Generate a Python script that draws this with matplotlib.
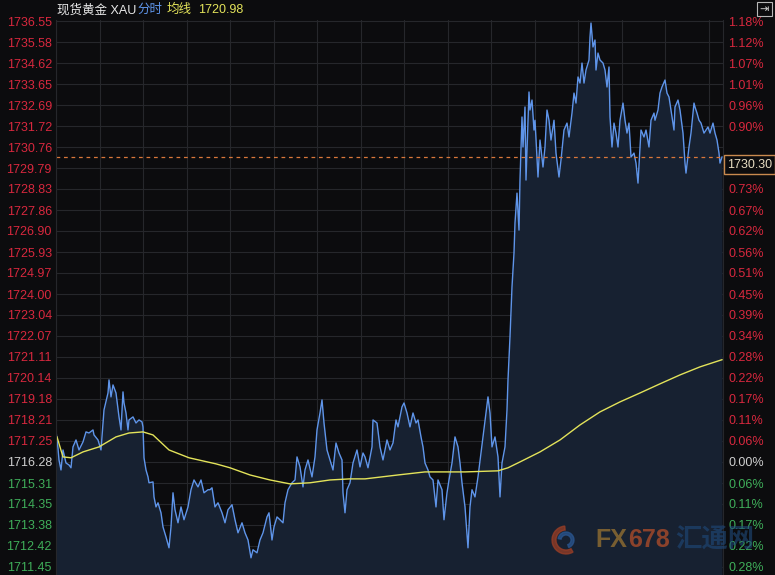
import numpy as np
import matplotlib
matplotlib.use('Agg')
import matplotlib.pyplot as plt
from matplotlib.patches import Rectangle, Wedge
from matplotlib.transforms import IdentityTransform, blended_transform_factory

plt.rcParams['font.family'] = ['Liberation Sans', 'Noto Sans CJK SC', 'DejaVu Sans']

prev_close = 1716.28
last_price = 1730.30

price_levels = [1736.55, 1735.58, 1734.62, 1733.65, 1732.69, 1731.72, 1730.76,
                1729.79, 1728.83, 1727.86, 1726.90, 1725.93, 1724.97, 1724.00,
                1723.04, 1722.07, 1721.11, 1720.14, 1719.18, 1718.21, 1717.25,
                1716.28, 1715.31, 1714.35, 1713.38, 1712.42, 1711.45]

# time (minutes from open) and price
t = [0, 2, 3, 5, 7, 10, 13, 15, 17, 20, 23, 27, 30, 33, 37, 38, 42, 45, 48, 52,
     53, 55, 57, 60, 63, 65, 67, 68, 70, 72, 73, 77, 80, 83, 86, 87, 88, 90, 92, 93,
     97, 98, 100, 102, 105, 107, 110, 113, 115, 117, 119, 122, 125, 128, 132, 135,
     138, 142, 145, 148, 152,
     154, 156, 159, 162, 166, 169, 172, 176, 179, 182, 186, 189, 192, 195, 197, 201,
     204, 207, 211, 213, 216, 218, 221, 224, 227, 229, 232, 236, 239, 241, 244, 247,
     249, 252, 256, 259, 261, 264, 266, 268, 271, 274, 277, 280, 283, 286, 287, 289,
     291, 294, 297, 301, 304, 307,
     309, 312, 316, 317, 321, 324, 327, 331, 334, 337, 340, 342, 346, 348, 351, 354,
     357, 360, 362, 365, 367, 369, 372, 374, 377, 380, 382, 386, 388, 391, 393, 396,
     399, 402, 404, 406, 409, 412, 414, 416, 419, 422, 425, 428, 432, 434, 436, 439,
     442, 444, 446, 449, 451, 452,
     454, 456, 458, 459, 461, 463, 464, 466, 467, 469, 470, 473, 474, 476, 478, 479,
     482, 484, 487, 489, 491, 493, 495, 498, 500, 503, 505, 508, 511, 513, 516, 518,
     520, 522, 524, 526, 528, 530, 533, 534, 535, 537, 539, 540, 542, 544, 547, 549,
     551, 553, 554, 556, 558, 560, 562, 564, 567, 569, 571, 573, 575, 578, 580, 582,
     584, 585, 588, 590, 593, 595, 598, 599, 602, 604, 606, 609, 611, 613, 616, 618,
     619, 622, 624, 627, 629, 630, 633, 635, 638, 639, 641, 643, 645, 648, 650, 652,
     654, 657, 659, 661, 663, 664, 666]
price = [1717.70, 1716.90, 1716.37, 1715.91, 1716.83, 1716.23, 1716.14, 1716.01,
         1716.97, 1717.29, 1716.83, 1717.20, 1717.66, 1717.61, 1717.75, 1717.52,
         1717.29, 1716.83, 1718.67, 1719.45, 1720.05, 1719.27, 1719.82, 1719.45,
         1718.35, 1717.75, 1719.50, 1718.99, 1718.53, 1717.75, 1718.21, 1718.35,
         1718.07, 1718.21, 1718.12, 1717.89, 1716.47, 1715.91, 1715.59, 1715.32,
         1715.36, 1714.67, 1714.21, 1714.40, 1713.94, 1713.29, 1712.83, 1712.33,
         1713.29, 1714.86, 1714.08, 1713.48, 1714.21, 1713.62, 1714.21, 1715.00,
         1715.45, 1715.13, 1715.45, 1714.86, 1715.00,
         1715.00, 1715.09, 1714.21, 1714.40, 1713.94, 1713.48, 1714.08, 1714.31,
         1713.62, 1713.02, 1713.48, 1713.02, 1712.69, 1711.87, 1712.24, 1712.10,
         1712.69, 1713.02, 1713.75, 1713.94, 1712.69, 1713.29, 1713.75, 1713.62,
         1713.48, 1714.40, 1715.00, 1715.32, 1715.45, 1716.51, 1716.05, 1715.13,
         1715.91, 1716.37, 1715.59, 1716.51, 1717.75, 1718.53, 1719.13, 1718.07,
         1716.83, 1716.37, 1715.91, 1717.15, 1716.69, 1716.37, 1714.86, 1713.94,
         1715.00, 1715.32, 1716.23, 1716.83, 1716.05, 1716.69,
         1716.51, 1716.01, 1716.97, 1718.21, 1718.07, 1716.97, 1716.37, 1717.29,
         1716.83, 1717.15, 1718.21, 1717.89, 1718.81, 1718.99, 1718.53, 1717.89,
         1718.53, 1718.07, 1718.21, 1717.43, 1716.97, 1716.23, 1715.91, 1715.59,
         1715.45, 1714.21, 1715.45, 1715.00, 1713.62, 1714.86, 1715.45, 1716.23,
         1717.43, 1716.97, 1716.23, 1715.32, 1714.21, 1712.33, 1714.21, 1715.00,
         1714.67, 1715.59, 1716.69, 1717.75, 1719.27, 1718.53, 1716.97, 1717.43,
         1716.51, 1714.67, 1716.23, 1716.97, 1718.67, 1720.05,
         1722.03, 1724.33, 1725.89, 1727.27, 1728.64, 1726.94, 1729.24, 1732.14,
         1730.76, 1732.60, 1729.24, 1733.29, 1732.46, 1732.92, 1731.54, 1731.99,
         1729.38, 1731.08, 1729.84, 1730.76, 1732.46, 1731.99, 1731.08, 1731.99,
         1730.48, 1729.38, 1730.16, 1731.54, 1731.86, 1731.22, 1732.32, 1733.24,
         1732.78, 1733.98, 1733.70, 1734.62, 1733.70, 1734.30, 1734.76, 1735.81,
         1736.46, 1735.36, 1735.68, 1734.30, 1735.08, 1734.76, 1734.62, 1734.30,
         1733.52, 1734.44, 1732.14, 1730.76, 1731.86, 1731.40, 1730.76, 1731.99,
         1732.78, 1731.99, 1731.40, 1731.86, 1730.30, 1730.48, 1730.02, 1729.10,
         1730.76, 1731.54, 1731.22, 1731.54, 1730.76, 1731.99, 1732.32, 1731.99,
         1732.46, 1733.24, 1733.52, 1733.84, 1733.24, 1733.06, 1732.14, 1731.54,
         1732.60, 1732.92, 1732.46, 1731.40, 1730.02, 1729.56, 1730.76, 1731.40,
         1732.78, 1732.60, 1732.32, 1731.99, 1731.86, 1731.40, 1731.54, 1731.68,
         1731.40, 1731.86, 1731.40, 1731.08, 1730.48, 1730.02, 1730.30]

# average price line
avg_t = [1, 7, 15, 27, 43, 60, 73, 87, 97, 113, 133, 160, 174, 194, 214, 234, 254,
         274, 294, 309, 342, 369, 409, 442, 452, 464, 484, 504, 524, 544, 564, 584,
         604, 624, 644, 666]
avg_price = [1717.43, 1716.51, 1716.47, 1716.74, 1716.97, 1717.43, 1717.61, 1717.66,
             1717.52, 1716.83, 1716.47, 1716.19, 1716.01, 1715.68, 1715.45, 1715.27,
             1715.32, 1715.45, 1715.50, 1715.50, 1715.68, 1715.82, 1715.82, 1715.87,
             1716.01, 1716.28, 1716.74, 1717.29, 1717.98, 1718.58, 1719.04, 1719.45,
             1719.87, 1720.28, 1720.65, 1720.98]

BG = '#0c0c0e'
GRID = '#26272b'
RED = '#d8283e'
GREEN = '#3fae5a'
NEUTRAL = '#cfcfcf'
BLUE = '#5f95ea'
YELLOW = '#e3e35a'


def level_color(p):
    if p > prev_close + 1e-6:
        return RED
    if p < prev_close - 1e-6:
        return GREEN
    return NEUTRAL


fig = plt.figure(figsize=(7.75, 5.75), dpi=100)
fig.patch.set_facecolor(BG)
ax = fig.add_axes([56 / 775, 0, 667 / 775, 555 / 575])
ax.set_facecolor(BG)

ylo, yhi = price_levels[-1] - 0.37, price_levels[0] + 0.05
ax.set_xlim(0, 667)
ax.set_ylim(ylo, yhi)

ax.set_yticks(price_levels)
ax.set_yticklabels(['%.2f' % p for p in price_levels])
for lbl, p in zip(ax.get_yticklabels(), price_levels):
    lbl.set_color(level_color(p))
ax.tick_params(axis='y', length=0, pad=3, labelsize=9)
ax.set_xticks(np.arange(0, 667, 43.5))
ax.tick_params(axis='x', length=0, labelbottom=False)
ax.grid(True, color=GRID, lw=0.8)
ax.set_axisbelow(True)
for side in ['top', 'bottom']:
    ax.spines[side].set_visible(False)
for side in ['left', 'right']:
    ax.spines[side].set_color(GRID)

ax.fill_between(t, price, ylo, color='#172131', lw=0)
ax.plot(t, price, color=BLUE, lw=1.0)
ax.plot(avg_t, avg_price, color=YELLOW, lw=1.0)
ax.axhline(last_price, color='#d9773a', lw=0.9, ls=(0, (3, 3)))

ax2 = ax.twinx()
ax2.set_ylim(ylo, yhi)
ax2.set_yticks(price_levels)
step = price_levels[0] - price_levels[1]
pct = []
for p in price_levels:
    if abs(p - last_price) < step / 2:
        pct.append('')
    else:
        pct.append('%.2f%%' % abs((p - prev_close) / prev_close * 100))
ax2.set_yticklabels(pct)
for lbl, p in zip(ax2.get_yticklabels(), price_levels):
    lbl.set_color(level_color(p))
ax2.tick_params(axis='y', length=0, pad=4, labelsize=9)
for s in ax2.spines.values():
    s.set_visible(False)

trans = blended_transform_factory(ax.transAxes, ax.transData)
ax2.text(1.006, last_price - 0.07, '%.2f' % last_price, transform=trans,
         ha='left', va='top', fontsize=9, color='#e6dcc2', clip_on=False,
         bbox=dict(boxstyle='square,pad=0.25', fc=BG, ec='#c98a4e', lw=1.0))

# header
hy = 1 - 10 / 575
fig.text(57 / 775, hy, '现货黄金 XAU', color='#e8e8e8', fontsize=9, va='center')
fig.text(137 / 775, hy, '分时', color=BLUE, fontsize=9, va='center')
fig.text(167 / 775, hy, '均线', color=YELLOW, fontsize=9, va='center')
fig.text(198 / 775, hy, '%.2f' % avg_price[-1], color=YELLOW, fontsize=9, va='center')

# corner icon
fig.add_artist(Rectangle((757, 559), 15, 14, transform=IdentityTransform(),
                         fill=False, ec='#b8b8b8', lw=0.8))
fig.text(764.5 / 775, 1 - 9 / 575, '⇥', color='#d0d0d0', fontsize=8,
         ha='center', va='center', family='DejaVu Sans')

# watermark
fig.add_artist(Wedge((566, 35), 14, 95, 300, width=4, transform=IdentityTransform(),
                     color='#9a3e26', alpha=0.75))
fig.add_artist(Wedge((566, 35), 8, -70, 170, width=3, transform=IdentityTransform(),
                     color='#2a5690', alpha=0.75))
fig.text(595 / 775, 35 / 575, 'FX', color='#8a6a32', fontsize=18, weight='bold',
         va='center', alpha=0.85)
fig.text(628 / 775, 35 / 575, '678', color='#a0482a', fontsize=18, weight='bold',
         va='center', alpha=0.85)
fig.text(675 / 775, 35 / 575, '汇通网', color='#1f4a7c', fontsize=19, weight='bold',
         va='center', alpha=0.6)

fig.savefig('out.png', dpi=100, facecolor=BG)
